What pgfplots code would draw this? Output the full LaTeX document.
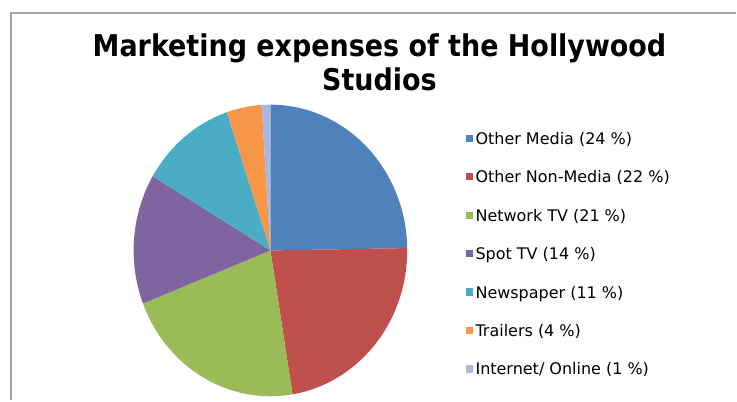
\documentclass[border=0pt]{standalone}
\usepackage{fontspec}
\setmainfont{DejaVu Sans}
\newfontfamily\titlefont{DejaVu Sans Condensed}
\usepackage{pgfplots}
\usepackage{pgfplotstable}
\pgfplotsset{compat=1.18}

% Excel 2007 palette
\definecolor{pie0}{HTML}{4F81BD}
\definecolor{pie1}{HTML}{C0504D}
\definecolor{pie2}{HTML}{9BBB59}
\definecolor{pie3}{HTML}{8064A2}
\definecolor{pie4}{HTML}{4BACC6}
\definecolor{pie5}{HTML}{F79646}
\definecolor{pie6}{HTML}{A7B9DE}
\definecolor{framegray}{HTML}{A6A6A6}

\pgfplotstableread[col sep=comma,row sep=\\]{
label,value\\
Other Media,24\\
Other Non-Media,22\\
Network TV,21\\
Spot TV,14\\
Newspaper,11\\
Trailers,4\\
Internet/ Online,1\\
}\piedata

\begin{document}
\begin{tikzpicture}
% total and cumulative angles (clockwise from the top)
\def\total{0}
\pgfplotsforeachungrouped \i in {0,...,6}{%
  \pgfplotstablegetelem{\i}{value}\of\piedata
  \pgfmathsetmacro\total{\total+\pgfplotsretval}%
}
\def\cum{0}
\pgfplotsforeachungrouped \i in {0,...,6}{%
  \pgfplotstablegetelem{\i}{value}\of\piedata
  \expandafter\xdef\csname pieV\i\endcsname{\pgfplotsretval}%
  \expandafter\xdef\csname pieS\i\endcsname{\cum}%
  \pgfmathsetmacro\cum{\cum+\pgfplotsretval*360/\total}%
  \expandafter\xdef\csname pieE\i\endcsname{\cum}%
  \pgfplotstablegetelem{\i}{label}\of\piedata
  \expandafter\xdef\csname pieL\i\endcsname{\pgfplotsretval}%
}
\begin{axis}[
  width=737pt, height=401pt, scale only axis,
  xmin=0, xmax=737, ymin=0, ymax=401,
  hide axis, clip=false,
  legend cell align=left,
  legend style={at={(0.6323,0.6701)}, anchor=north west,
    draw=none, fill=none, inner sep=0pt,
    font=\fontsize{16}{18}\selectfont,
    nodes={inner sep=0pt, text height=12pt, text depth=0pt},
    row sep=26.5pt,
    /tikz/every odd column/.append style={column sep=2.7pt}},
  legend image code/.code={\fill[#1] (0pt,-3.6pt) rectangle (7.3pt,3.6pt);},
]
\path (axis cs:0,0) rectangle (axis cs:737,401);
\draw[framegray, line width=2pt] (axis cs:10.7,0) -- (axis cs:10.7,388.3) -- (axis cs:737,388.3);

\pgfplotsinvokeforeach{0,...,6}{
  \addplot[fill=pie#1, draw=none, domain=\csname pieS#1\endcsname:\csname pieE#1\endcsname, samples=90]
    ({270.8+137*sin(x)},{150.2+146*cos(x)}) -- (axis cs:270.8,150.2) -- cycle;
  \addlegendentry{\csname pieL#1\endcsname\ (\csname pieV#1\endcsname\ \%)}
}

\node[anchor=base, font=\titlefont\bfseries\fontsize{30}{34}\selectfont] at (axis cs:380,344.3) {Marketing expenses of the Hollywood};
\node[anchor=base, font=\titlefont\bfseries\fontsize{30}{34}\selectfont] at (axis cs:380,310) {Studios};
\end{axis}
\end{tikzpicture}
\end{document}
